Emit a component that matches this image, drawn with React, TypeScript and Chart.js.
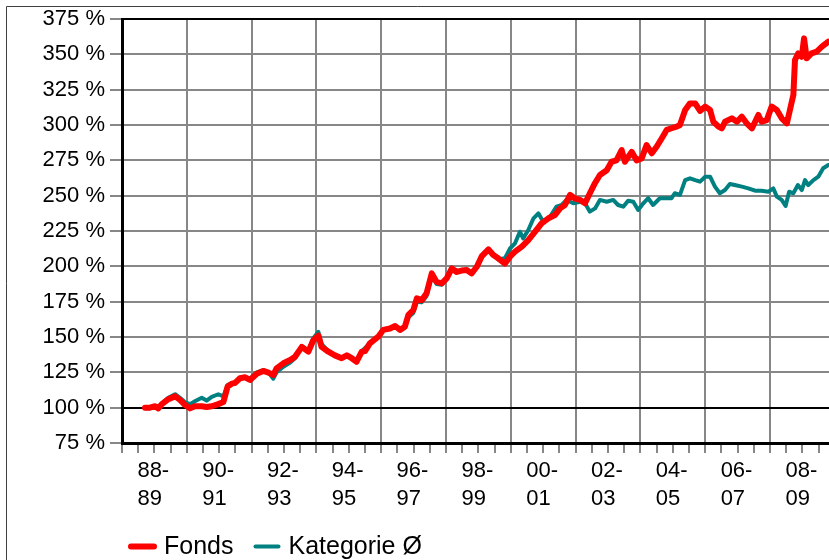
import React, { useEffect, useRef } from "react";
import { Chart, registerables } from "chart.js";

Chart.register(...registerables);

// ---- data ----
const fondsDates = [
  1988.71, 1988.86, 1989.02, 1989.12, 1989.23, 1989.43, 1989.64, 1989.79, 1989.94, 1990.1,
  1990.25, 1990.46, 1990.61, 1990.77, 1990.97, 1991.13, 1991.26, 1991.39, 1991.49, 1991.64,
  1991.8, 1991.95, 1992.16, 1992.36, 1992.52, 1992.67, 1992.77, 1992.98, 1993.19, 1993.34,
  1993.55, 1993.75, 1993.9, 1994.06, 1994.16, 1994.37, 1994.57, 1994.78, 1994.94, 1995.09,
  1995.24, 1995.4, 1995.5, 1995.65, 1995.91, 1996.06, 1996.27, 1996.43, 1996.58, 1996.73,
  1996.84, 1996.99, 1997.1, 1997.25, 1997.4, 1997.56, 1997.71, 1997.87, 1998.02, 1998.18,
  1998.33, 1998.48, 1998.64, 1998.79, 1998.95, 1999.1, 1999.31, 1999.46, 1999.61, 1999.82,
  1999.98, 2000.13, 2000.34, 2000.54, 2000.75, 2000.95, 2001.16, 2001.36, 2001.52, 2001.67,
  2001.83, 2001.98, 2002.14, 2002.29, 2002.44, 2002.6, 2002.75, 2002.96, 2003.11, 2003.26,
  2003.42, 2003.52, 2003.73, 2003.88, 2004.04, 2004.19, 2004.35, 2004.5, 2004.66, 2004.81,
  2004.96, 2005.12, 2005.22, 2005.38, 2005.53, 2005.69, 2005.84, 2006.0, 2006.15, 2006.25,
  2006.41, 2006.51, 2006.61, 2006.82, 2006.98, 2007.13, 2007.28, 2007.44, 2007.54, 2007.64,
  2007.74, 2007.9, 2008.05, 2008.21, 2008.36, 2008.52, 2008.65, 2008.72, 2008.77, 2008.87,
  2008.98, 2009.05, 2009.13, 2009.28, 2009.44, 2009.6, 2009.8,
];
const fondsValues = [
  100, 100, 101, 99.5, 102.5, 106, 108, 105.5, 102, 99.5,
  101, 101, 100.5, 101, 102.5, 104, 115, 117, 117.5, 120.8,
  121.5, 119.6, 124, 126, 124.8, 123, 127.8, 131.4, 133.7, 136,
  143, 139.6, 147.5, 151, 143, 139.6, 137, 135, 137, 135,
  132.5, 139.6, 140, 145.5, 150.2, 155, 156, 157.8, 155, 157.3,
  165.6, 169, 177.4, 176, 181, 195, 189, 188, 191.5, 198.6,
  196, 197, 197.4, 195, 199.7, 207, 212, 208, 205.7, 202,
  207, 210.4, 214, 218.6, 224.5, 230.4, 234, 236.3, 241, 243.4,
  250.5, 248, 247, 244.6, 251.7, 259, 264.6, 268, 274, 275,
  282.3, 274, 281, 275, 276.4, 285.8, 280, 284.6, 290.6, 296.5,
  297.7, 298.8, 300, 310.6, 315.3, 315.3, 310, 313, 310.6, 302.3,
  298.8, 297.6, 302.3, 304.7, 302.3, 305.9, 301.2, 297.6, 302.3, 307.1,
  302.3, 303.5, 313, 310.6, 304.7, 301.2, 314.2, 321.2, 346, 350.7,
  348.3, 361.3, 347.2, 350.7, 351.9, 355.4, 359,
];

const kategorieDates = [
  1988.71, 1988.86, 1989.02, 1989.12, 1989.23, 1989.43, 1989.64, 1989.79, 1989.94, 1990.1,
  1990.25, 1990.46, 1990.61, 1990.77, 1990.97, 1991.13, 1991.26, 1991.39, 1991.49, 1991.64,
  1991.8, 1991.95, 1992.16, 1992.36, 1992.52, 1992.67, 1992.77, 1992.98, 1993.19, 1993.34,
  1993.55, 1993.75, 1993.9, 1994.06, 1994.16, 1994.37, 1994.57, 1994.78, 1994.94, 1995.09,
  1995.24, 1995.4, 1995.65, 1995.91, 1996.06, 1996.27, 1996.43, 1996.58, 1996.73, 1996.84,
  1996.99, 1997.1, 1997.25, 1997.4, 1997.56, 1997.71, 1997.87, 1998.02, 1998.18, 1998.33,
  1998.48, 1998.64, 1998.79, 1998.95, 1999.1, 1999.31, 1999.46, 1999.61, 1999.82, 1999.98,
  2000.13, 2000.28, 2000.38, 2000.54, 2000.7, 2000.85, 2001.0, 2001.21, 2001.41, 2001.57,
  2001.72, 2001.93, 2002.14, 2002.29, 2002.44, 2002.6, 2002.75, 2002.96, 2003.16, 2003.31,
  2003.47, 2003.62, 2003.78, 2003.93, 2004.09, 2004.24, 2004.39, 2004.6, 2004.81, 2004.96,
  2005.06, 2005.22, 2005.38, 2005.53, 2005.69, 2005.84, 2006.0, 2006.15, 2006.3, 2006.45,
  2006.61, 2006.76, 2006.91, 2007.13, 2007.33, 2007.54, 2007.74, 2007.95, 2008.1, 2008.21,
  2008.36, 2008.48, 2008.59, 2008.72, 2008.86, 2008.98, 2009.08, 2009.18, 2009.34, 2009.49,
  2009.64, 2009.8,
];
const kategorieValues = [
  99.5, 99.5, 101, 100.5, 103, 107, 109.5, 107, 104, 102.5,
  104.5, 107, 105, 107.7, 109.5, 108, 116, 117.5, 117, 121,
  121.5, 120.5, 125, 126.5, 125, 120.5, 125, 129, 132, 135,
  143.5, 140, 149, 153.7, 145, 140, 137, 135.5, 137, 135,
  133, 140, 145.5, 150, 154.5, 156, 157.5, 155, 157, 164,
  167, 175, 174.5, 179, 193, 187.5, 187, 191, 198, 196,
  197, 197, 194.5, 199.5, 207, 212, 208.5, 205, 205.7, 212.8,
  216.3, 224.5, 219.8, 225.7, 234, 237.5, 231.6, 235, 242.2, 243.4,
  247, 244.6, 245.7, 244.6, 238.7, 241, 247, 245.7, 247, 243.4,
  242.2, 246.4, 245.7, 239.9, 244.6, 248.2, 243.4, 248.2, 248.2, 248.2,
  251.7, 250.5, 261, 262.3, 261, 259.9, 263.4, 263.4, 256.4, 251.7,
  254, 258.3, 257.5, 256.4, 255.2, 253.5, 253.5, 252.8, 255.2, 249.3,
  247, 242.7, 252.8, 251.7, 257.5, 254, 261, 257.5, 261, 263.4,
  269.4, 271.7,
];

const seriesNames = ["Fonds", "Kategorie \u00d8"];
const yTickValues = [75, 100, 125, 150, 175, 200, 225, 250, 275, 300, 325, 350, 375];
const periodYears = [1989, 1991, 1993, 1995, 1997, 1999, 2001, 2003, 2005, 2007, 2009];
const periodLabels = [
  ["88-", "89"], ["90-", "91"], ["92-", "93"], ["94-", "95"], ["96-", "97"], ["98-", "99"],
  ["00-", "01"], ["02-", "03"], ["04-", "05"], ["06-", "07"], ["08-", "09"],
];
const xStart = 1988;
const xEnd = 2009.82;

const FONT = "'Liberation Sans', Arial, Helvetica, sans-serif";
const GRID = "#878787";

const toPoints = (xs: number[], ys: number[]) => xs.map((x, i) => ({ x, y: ys[i] }));

const framePlugin = {
  id: "frame",
  afterDraw(chart: any) {
    const ctx = chart.ctx;
    ctx.save();
    ctx.strokeStyle = "#404040";
    ctx.lineWidth = 1;
    ctx.beginPath();
    ctx.moveTo(6.5, chart.height);
    ctx.lineTo(6.5, 6.5);
    ctx.lineTo(chart.width, 6.5);
    ctx.stroke();

    // legend
    const y = 546.5;
    let x = 128;
    ctx.font = `25px ${FONT}`;
    ctx.textBaseline = "middle";
    ctx.textAlign = "left";
    chart.data.datasets.forEach((ds: any) => {
      ctx.strokeStyle = ds.borderColor;
      ctx.lineWidth = ds.borderWidth;
      ctx.lineCap = "round";
      ctx.beginPath();
      ctx.moveTo(x + 3, y);
      ctx.lineTo(x + 26, y);
      ctx.stroke();
      ctx.fillStyle = "#000";
      ctx.fillText(ds.label, x + 36, y + 1);
      x += 36 + ctx.measureText(ds.label).width + 19;
    });
    ctx.restore();
  },
};

export default function App() {
  const ref = useRef<HTMLCanvasElement | null>(null);
  useEffect(() => {
    if (!ref.current) return;
    const chart = new Chart(ref.current, {
      type: "line",
      data: {
        datasets: [
          {
            label: seriesNames[0],
            data: toPoints(fondsDates, fondsValues),
            borderColor: "#ff0000",
            backgroundColor: "#ff0000",
            borderWidth: 6,
            pointRadius: 0,
            tension: 0,
            borderJoinStyle: "round",
            borderCapStyle: "round",
          },
          {
            label: seriesNames[1],
            data: toPoints(kategorieDates, kategorieValues),
            borderColor: "#008080",
            backgroundColor: "#008080",
            borderWidth: 4,
            pointRadius: 0,
            tension: 0,
            borderJoinStyle: "round",
            borderCapStyle: "round",
          },
        ],
      },
      options: {
        responsive: false,
        animation: false,
        events: [],
        layout: { padding: { top: 19, left: 0, right: 0, bottom: 0 } },
        plugins: { legend: { display: false }, tooltip: { enabled: false } },
        scales: {
          x: {
            type: "linear",
            min: xStart,
            max: xEnd,
            afterBuildTicks: (s: any) => {
              const t: any[] = [];
              for (let v = xStart; v <= xEnd; v += 0.5) t.push({ value: v });
              s.ticks = t;
            },
            afterFit: (s: any) => {
              s.height = 117;
              s.paddingLeft = 0;
              s.paddingRight = 0;
            },
            grid: {
              color: (c: any) => {
                const v = c.tick ? c.tick.value : 0;
                return Number.isInteger(v) && v % 2 === 0 && v !== xStart ? GRID : "rgba(0,0,0,0)";
              },
              tickColor: GRID,
              lineWidth: 2,
              tickWidth: 2,
              tickLength: 10,
              drawTicks: true,
            },
            border: { color: "#000", width: 3 },
            ticks: {
              autoSkip: false,
              maxRotation: 0,
              minRotation: 0,
              align: "start",
              labelOffset: -17,
              padding: 4,
              color: "#000",
              font: { family: FONT, size: 22, lineHeight: 1.27 },
              callback: (v: any) => {
                const i = periodYears.indexOf(Number(v));
                return i >= 0 ? periodLabels[i] : "";
              },
            },
          },
          y: {
            min: yTickValues[0],
            max: yTickValues[yTickValues.length - 1],
            afterBuildTicks: (s: any) => {
              s.ticks = yTickValues.map((v) => ({ value: v }));
            },
            afterFit: (s: any) => {
              s.width = 122;
              s.paddingTop = 0;
              s.paddingBottom = 0;
            },
            grid: {
              color: (c: any) => {
                const v = c.tick ? c.tick.value : 0;
                return v === 100 || v === 375 ? "#000" : GRID;
              },
              tickColor: GRID,
              lineWidth: 2,
              tickWidth: 2,
              tickLength: 12,
            },
            border: { color: "#000", width: 3 },
            ticks: {
              padding: 5,
              color: "#000",
              font: { family: FONT, size: 22 },
              callback: (v: any) => `${v} %`,
            },
          },
        },
      },
      plugins: [framePlugin],
    } as any);
    return () => chart.destroy();
  }, []);

  return (
    <div style={{ position: "fixed", left: 0, top: 0, width: 829, height: 560, background: "#fff" }}>
      <canvas ref={ref} width={829} height={560} style={{ display: "block" }} />
    </div>
  );
}
